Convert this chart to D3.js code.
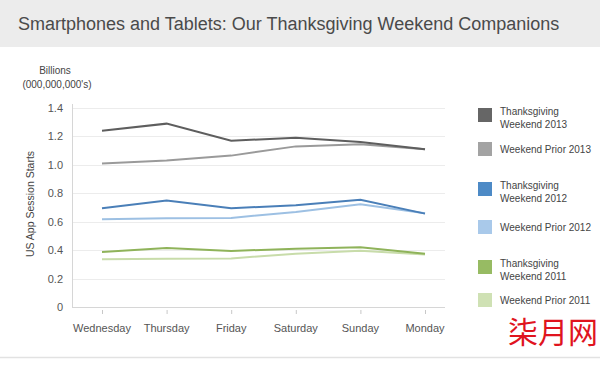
<!DOCTYPE html>
<html>
<head>
<meta charset="utf-8">
<script src="https://cdnjs.cloudflare.com/ajax/libs/d3/7.8.5/d3.min.js"></script>
<style>
  body { margin: 0; background: #fff; }
  svg text { font-family: "Liberation Sans", Arial, sans-serif; }
</style>
</head>
<body>
<div id="chart"></div>
<script>
'use strict';

const days = ["Wednesday", "Thursday", "Friday", "Saturday", "Sunday", "Monday"];
const yTicks = [0, 0.2, 0.4, 0.6, 0.8, 1.0, 1.2, 1.4];

const tw2013 = [1.24, 1.29, 1.17, 1.19, 1.16, 1.11];
const wp2013 = [1.01, 1.03, 1.065, 1.13, 1.145, 1.11];
const tw2012 = [0.695, 0.75, 0.695, 0.716, 0.755, 0.657];
const wp2012 = [0.618, 0.625, 0.627, 0.669, 0.723, 0.66];
const tw2011 = [0.387, 0.415, 0.394, 0.41, 0.42, 0.375];
const wp2011 = [0.336, 0.34, 0.342, 0.375, 0.396, 0.37];

const seriesNames = [
  ["Thanksgiving", "Weekend 2013"], ["Weekend Prior 2013"],
  ["Thanksgiving", "Weekend 2012"], ["Weekend Prior 2012"],
  ["Thanksgiving", "Weekend 2011"], ["Weekend Prior 2011"]
];
const seriesValues = [tw2013, wp2013, tw2012, wp2012, tw2011, wp2011];

const lineColors = ["#5e5e5e", "#9a9a9a", "#4a7fb8", "#9dc0e3", "#8fb35a", "#c8dcaa"];
const swatchColors = ["#666666", "#a3a3a3", "#4d8ac6", "#a9c9ea", "#97bb63", "#cfe1b4"];

const width = 600, height = 366;
const svg = d3.select("#chart").append("svg")
  .attr("width", width)
  .attr("height", height);

// header band
svg.append("rect")
  .attr("x", 0).attr("y", 0)
  .attr("width", width).attr("height", 47)
  .style("fill", "#ececec");
svg.append("text")
  .attr("x", 18).attr("y", 30)
  .style("font-size", "18px")
  .style("fill", "#4a4a4a")
  .text("Smartphones and Tablets: Our Thanksgiving Weekend Companions");

// bottom rule
svg.append("line")
  .attr("x1", 0).attr("x2", width)
  .attr("y1", 357.5).attr("y2", 357.5)
  .style("stroke", "#e2e2e2")
  .style("stroke-width", 1.5);

const plotLeft = 72, plotRight = 445, plotTop = 108, plotBottom = 307;

const x = d3.scalePoint()
  .domain(days)
  .range([102, 425]);
const y = d3.scaleLinear()
  .domain([0, 1.4])
  .range([plotBottom, plotTop]);

const g = svg.append("g");

// gridlines
g.selectAll("line.grid")
  .data(yTicks.filter(d => d > 0))
  .enter().append("line")
  .attr("class", "grid")
  .attr("x1", plotLeft).attr("x2", plotRight)
  .attr("y1", d => Math.round(y(d)) + 0.5)
  .attr("y2", d => Math.round(y(d)) + 0.5)
  .style("stroke", "#ececec");

// axis lines
g.append("line")
  .attr("x1", plotLeft + 0.5).attr("x2", plotLeft + 0.5)
  .attr("y1", plotTop - 4).attr("y2", plotBottom)
  .style("stroke", "#d6d6d6");
g.append("line")
  .attr("x1", plotLeft).attr("x2", plotRight)
  .attr("y1", plotBottom + 0.5).attr("y2", plotBottom + 0.5)
  .style("stroke", "#d6d6d6");

// y tick labels
g.selectAll("text.ytick")
  .data(yTicks)
  .enter().append("text")
  .attr("class", "ytick")
  .attr("x", 63)
  .attr("y", d => y(d) + 4)
  .attr("text-anchor", "end")
  .style("font-size", "11px")
  .style("fill", "#555")
  .text(d => d === 0 ? "0" : d3.format(".1f")(d));

// x ticks and labels
g.selectAll("line.xtick")
  .data(days)
  .enter().append("line")
  .attr("class", "xtick")
  .attr("x1", d => x(d) + 0.5).attr("x2", d => x(d) + 0.5)
  .attr("y1", plotBottom + 3).attr("y2", plotBottom + 7)
  .style("stroke", "#c8c8c8");
g.selectAll("text.xlabel")
  .data(days)
  .enter().append("text")
  .attr("class", "xlabel")
  .attr("x", d => x(d))
  .attr("y", 332)
  .attr("text-anchor", "middle")
  .style("font-size", "11px")
  .style("fill", "#555")
  .text(d => d);

// axis titles
svg.append("text")
  .attr("x", 55).attr("y", 74)
  .attr("text-anchor", "middle")
  .style("font-size", "10px")
  .style("fill", "#444")
  .text("Billions");
svg.append("text")
  .attr("x", 57).attr("y", 88)
  .attr("text-anchor", "middle")
  .style("font-size", "10px")
  .style("fill", "#444")
  .text("(000,000,000's)");
svg.append("text")
  .attr("transform", "translate(34,204) rotate(-90)")
  .attr("text-anchor", "middle")
  .style("font-size", "10.5px")
  .style("fill", "#444")
  .text("US App Session Starts");

// lines
const line = d3.line()
  .x((d, i) => x(days[i]))
  .y(d => y(d));

// draw light series first so dark ones sit on top
const order = [1, 3, 5, 0, 2, 4];
g.selectAll("path.series")
  .data(order)
  .enter().append("path")
  .attr("class", "series")
  .attr("d", i => line(seriesValues[i]))
  .style("fill", "none")
  .style("stroke", i => lineColors[i])
  .style("stroke-width", 2);

// legend
const legendTops = [108, 142, 182, 220, 260, 293];
const legend = svg.append("g");
seriesNames.forEach((lines, i) => {
  const ty = legendTops[i];
  legend.append("rect")
    .attr("x", 478).attr("y", ty)
    .attr("width", 14).attr("height", 14)
    .style("fill", swatchColors[i]);
  const t = legend.append("text")
    .attr("x", 500)
    .attr("y", lines.length === 1 ? ty + 11 : ty + 7)
    .style("font-size", "10px")
    .style("fill", "#444");
  lines.forEach((s, k) => {
    t.append("tspan")
      .attr("x", 500)
      .attr("dy", k === 0 ? 0 : 13)
      .text(s);
  });
});

// watermark
svg.append("text")
  .attr("x", 508).attr("y", 343)
  .style("font-family", "'Noto Sans CJK SC', sans-serif")
  .style("font-size", "30px")
  .style("fill", "#e0141e")
  .text("柒月网");
</script>
</body>
</html>
